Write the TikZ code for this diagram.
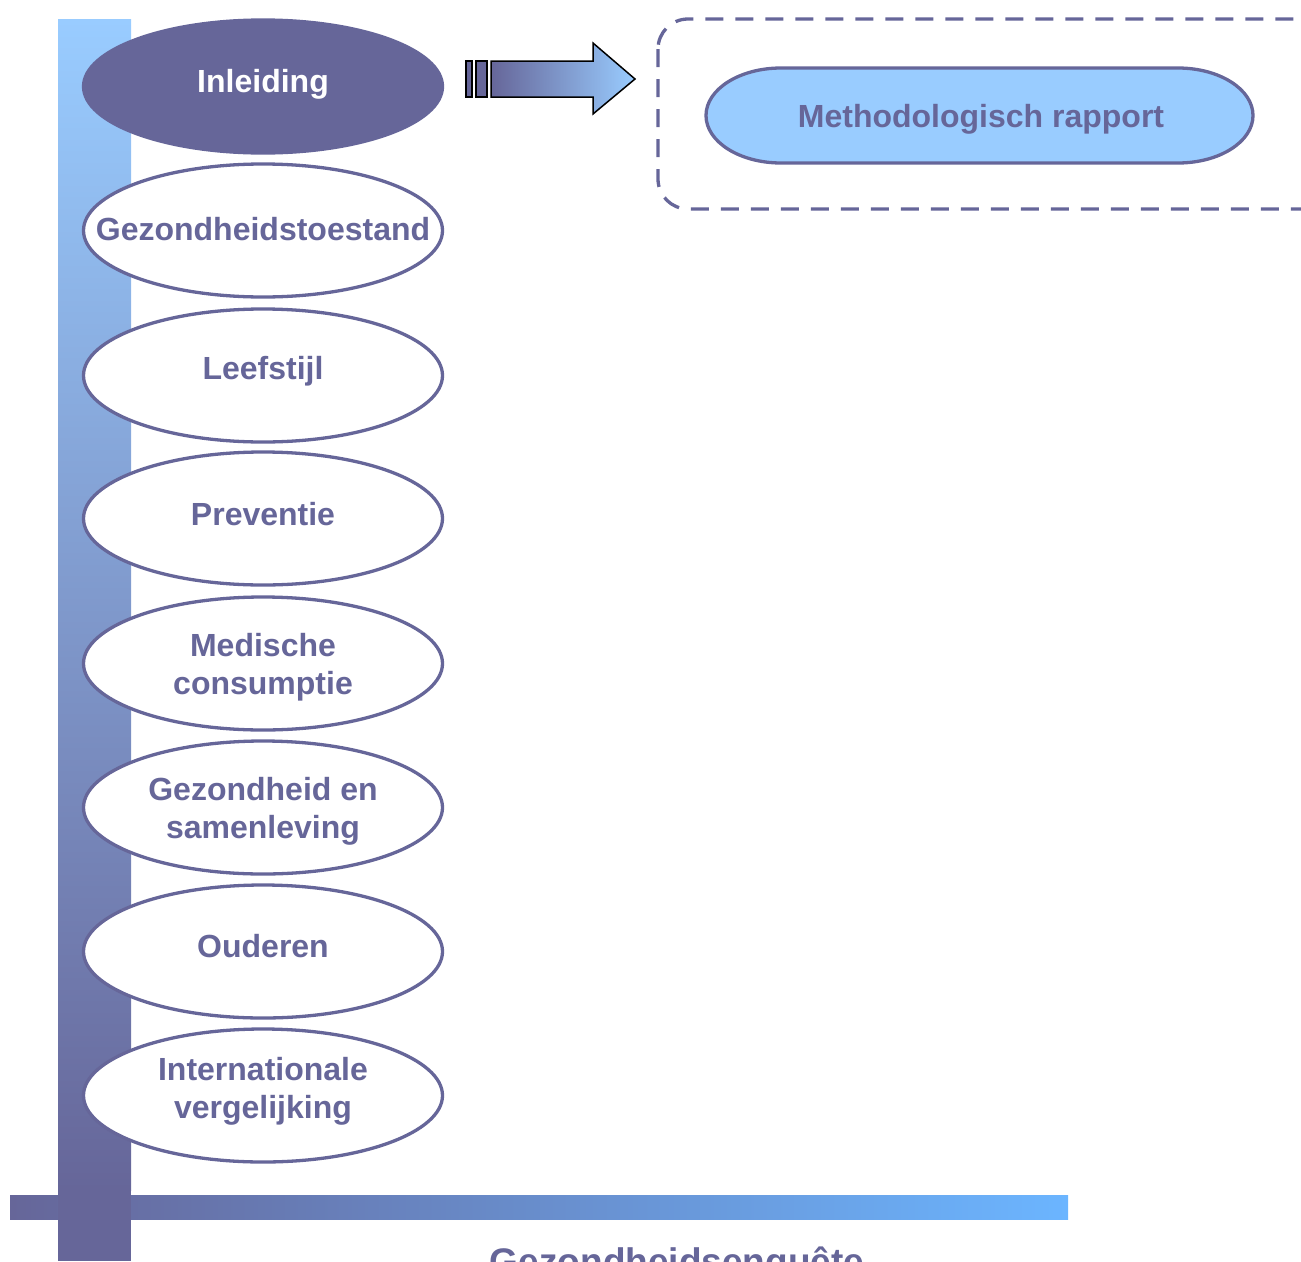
\documentclass[tikz,border=0pt]{standalone}
\usepackage{fontspec}
\setmainfont{Liberation Sans}
\usetikzlibrary{shapes.geometric}
\definecolor{navy}{HTML}{666699}
\definecolor{sky}{HTML}{99CCFF}
\definecolor{skyb}{HTML}{6BB5FF}
\tikzset{
  topic/.style={ellipse, draw=navy, line width=3.3pt, fill=white, minimum width=359pt, minimum height=133pt, inner sep=0pt},
  topictext/.style={text=navy, font=\bfseries\fontsize{32}{38}\selectfont, align=center, inner sep=0pt},
  stripe/.style={fill=navy, draw=black, line width=1.5pt},
}
\begin{document}
\begin{tikzpicture}[x=1pt,y=-1pt]
\useasboundingbox (0,0) rectangle (1301,1261);
\clip (0,0) rectangle (1301,1261);
% axes
\shade[left color=navy, right color=skyb] (10,1195) rectangle (1068,1219);
\shade[top color=sky, bottom color=navy] (58,19) rectangle (131,1190);
\fill[navy] (58,1189) rectangle (131,1261);
% topics
\node[topic, fill=navy, draw=navy] (e1) at (263,86.5) {};
\node[topictext, text=white] (t1) at (263,84) {Inleiding};
\node[topic] (e2) at (263,230.5) {};
\node[topictext] (t2) at (263,229) {Gezondheidstoestand};
\node[topic] (e3) at (263,375.5) {};
\node[topictext] (t3) at (263,371) {Leefstijl};
\node[topic] (e4) at (263,518.5) {};
\node[topictext] (t4) at (263,514) {Preventie};
\node[topic] (e5) at (263,663.5) {};
\node[topictext] (t5) at (263,667) {Medische\\consumptie};
\node[topic] (e6) at (263,807.5) {};
\node[topictext] (t6) at (263,811) {Gezondheid en\\samenleving};
\node[topic] (e7) at (263,951.5) {};
\node[topictext] (t7) at (263,946) {Ouderen};
\node[topic] (e8) at (263,1095.5) {};
\node[topictext] (t8) at (263,1091) {Internationale\\vergelijking};
% arrow
\draw[stripe] (466,61) rectangle (472,97);
\draw[stripe] (476,61) rectangle (487,97);
\shade[left color=navy, right color=sky, draw=black, line width=1.5pt]
  (491,61) -- (593,61) -- (593,43) -- (635,79) -- (593,114) -- (593,97) -- (491,97) -- cycle;
% dashed box
\draw[navy, line width=3.3pt, dash pattern=on 18pt off 12pt, rounded corners=30pt] (658,19) rectangle (1330,209);
\draw[navy, line width=3.3pt, fill=sky] (781,68) -- (1178,68)
  arc[start angle=-90, end angle=90, x radius=75, y radius=47.5] -- (781,163)
  arc[start angle=90, end angle=270, x radius=75, y radius=47.5] -- cycle;
\node[topictext] (mt) at (981,119) {Methodologisch rapport};
% bottom label
\node[text=navy, font=\bfseries\fontsize{37}{40}\selectfont, anchor=base, inner sep=0pt] (lbl) at (677,1274) {Gezondheidsenquête};
\end{tikzpicture}
\end{document}
